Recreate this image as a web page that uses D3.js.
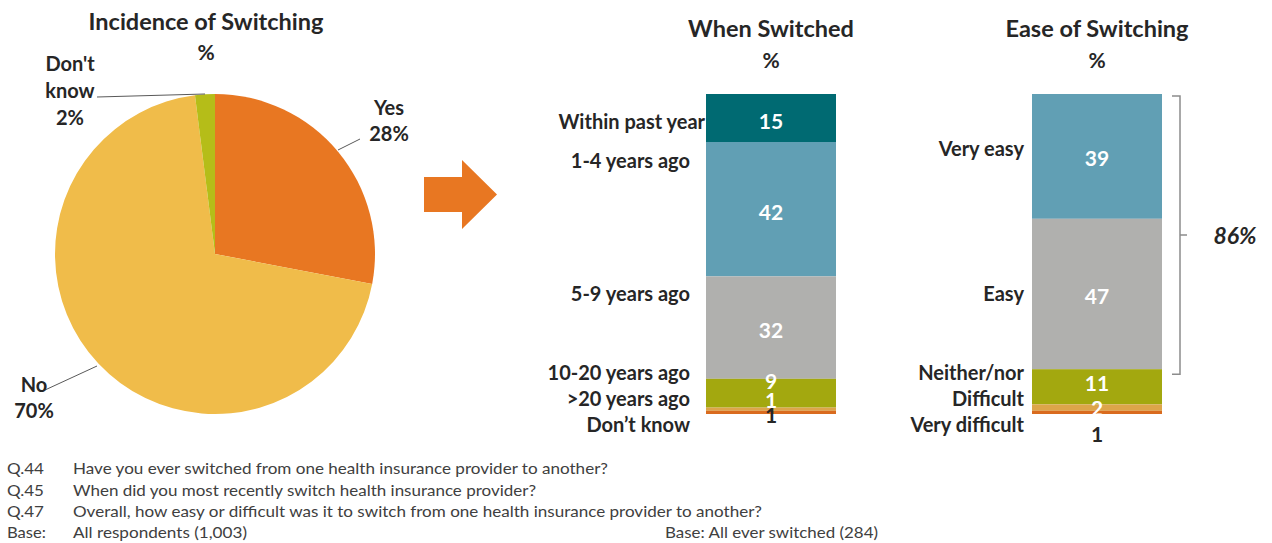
<!DOCTYPE html>
<html>
<head>
<meta charset="utf-8">
<script src="https://cdn.jsdelivr.net/npm/d3@7"></script>
<style>
  html, body { margin: 0; padding: 0; background: #fff; }
  svg { display: block; }
  text { font-family: Lato, "Open Sans", sans-serif; }
</style>
</head>
<body>
<svg id="chart" width="1272" height="543"></svg>
<script>
// Incidence of switching (pie)
const pieLabels = ["Yes", "No", "Don't know"];
const pieValues = [28, 70, 2];

// When switched (stacked bar)
const whenCategories = ["Within past year", "1-4 years ago", "5-9 years ago", "10-20 years ago", ">20 years ago", "Don\u2019t know"];
const whenValues = [15, 42, 32, 9, 1, 1];

// Ease of switching (stacked bar)
const easeCategories = ["Very easy", "Easy", "Neither/nor", "Difficult", "Very difficult"];
const easeValues = [39, 47, 11, 2, 1];
const easeNet = 86; // very easy + easy

const footnotes = [
  ["Q.44", "Have you ever switched from one health insurance provider to another?"],
  ["Q.45", "When did you most recently switch health insurance provider?"],
  ["Q.47", "Overall, how easy or difficult was it to switch from one health insurance provider to another?"],
  ["Base:", "All respondents (1,003)"]
];
const baseSwitched = "Base: All ever switched (284)";

const svg = d3.select("#chart");
const dark = "#262626";

// ---------- Pie ----------
const pieColors = ["#E87722", "#F0BC4A", "#B5BD18"];
const cx = 215, cy = 254, r = 160;
const pie = d3.pie().sort(null).value(d => d)(pieValues);
const arc = d3.arc().innerRadius(0).outerRadius(r);
const pg = svg.append("g").attr("transform", `translate(${cx},${cy})`);
pg.selectAll("path").data(pie).join("path")
  .attr("d", arc)
  .attr("fill", (d, i) => pieColors[i]);

svg.append("text").attr("x", 206).attr("y", 30).attr("text-anchor", "middle")
  .attr("font-size", 23.5).attr("font-weight", 700).attr("fill", dark).text("Incidence of Switching");
svg.append("text").attr("x", 206).attr("y", 60).attr("text-anchor", "middle")
  .attr("font-size", 21).attr("font-weight", 700).attr("fill", dark).text("%");

// pie slice labels with leader lines
const leader = svg.append("g").attr("stroke", "#595959").attr("stroke-width", 1).attr("fill", "none");
leader.append("line").attr("x1", 338).attr("y1", 150).attr("x2", 360).attr("y2", 139);
leader.append("line").attr("x1", 97).attr("y1", 97).attr("x2", cx - 10).attr("y2", 94);
leader.append("line").attr("x1", 45).attr("y1", 390).attr("x2", 97).attr("y2", 366);

function multiLine(x, y, lines, lh, anchor) {
  const t = svg.append("text").attr("x", x).attr("y", y).attr("text-anchor", anchor)
    .attr("font-size", 20).attr("font-weight", 700).attr("fill", dark);
  lines.forEach((l, i) => t.append("tspan").attr("x", x).attr("dy", i === 0 ? 0 : lh).text(l));
}
multiLine(389, 115, [pieLabels[0], pieValues[0] + "%"], 26, "middle");
multiLine(70, 71, ["Don't", "know", pieValues[2] + "%"], 27, "middle");
multiLine(34, 392, [pieLabels[1], pieValues[1] + "%"], 26, "middle");

// ---------- Arrow ----------
svg.append("path")
  .attr("d", "M424,177 L462,177 L462,160 L497,194.5 L462,229 L462,212 L424,212 Z")
  .attr("fill", "#E87722");

// ---------- Stacked bars ----------
const yBar = d3.scaleLinear().domain([0, 100]).range([94, 414]);

function stackedBar(opts) {
  const { x0, w, values, colors, cats, catX, catY, valY, valColors, title } = opts;
  let cum = 0;
  const segs = values.map(v => { const s = { start: cum, end: cum + v, v }; cum += v; return s; });
  const g = svg.append("g");
  g.selectAll("rect").data(segs).join("rect")
    .attr("x", x0).attr("width", w)
    .attr("y", d => yBar(d.start))
    .attr("height", d => yBar(d.end) - yBar(d.start))
    .attr("fill", (d, i) => colors[i]);
  g.selectAll("text.val").data(segs).join("text")
    .attr("class", "val")
    .attr("x", x0 + w / 2)
    .attr("y", (d, i) => valY[i])
    .attr("text-anchor", "middle").attr("dominant-baseline", "central")
    .attr("font-size", 21).attr("font-weight", 700)
    .attr("fill", (d, i) => valColors[i])
    .text(d => d.v);
  g.selectAll("text.cat").data(cats).join("text")
    .attr("class", "cat")
    .attr("x", (d, i) => catX[i])
    .attr("y", (d, i) => catY[i])
    .attr("text-anchor", "end").attr("dominant-baseline", "central")
    .attr("font-size", 20).attr("font-weight", 700).attr("fill", dark)
    .text(d => d);
  svg.append("text").attr("x", x0 + w / 2).attr("y", 37).attr("text-anchor", "middle")
    .attr("font-size", 23.5).attr("font-weight", 700).attr("fill", dark).text(title);
  svg.append("text").attr("x", x0 + w / 2).attr("y", 68).attr("text-anchor", "middle")
    .attr("font-size", 21).attr("font-weight", 700).attr("fill", dark).text("%");
}

stackedBar({
  x0: 706, w: 130, values: whenValues, title: "When Switched",
  colors: ["#006A72", "#619FB4", "#B0B0AE", "#A3A80F", "#DDA54A", "#D96B1F"],
  cats: whenCategories,
  catX: [705, 690, 690, 690, 690, 690],
  catY: [121, 160, 293, 372, 398, 424],
  valY: [120, 211, 329, 380, 399, 414],
  valColors: ["#fff", "#fff", "#fff", "#fff", "#fff", dark]
});

stackedBar({
  x0: 1032, w: 130, values: easeValues, title: "Ease of Switching",
  colors: ["#619FB4", "#B0B0AE", "#A3A80F", "#DDA54A", "#D96B1F"],
  cats: easeCategories,
  catX: [1024, 1024, 1024, 1024, 1024],
  catY: [148, 293, 372, 398, 424],
  valY: [157, 295, 382, 407, 433],
  valColors: ["#fff", "#fff", "#fff", "#fff", dark]
});

// bracket for the net "easy" share
const bTop = yBar(0) + 2, bBot = yBar(easeNet) + 5, bMid = (bTop + bBot) / 2;
svg.append("path")
  .attr("d", `M1172,${bTop} L1180,${bTop} L1180,${bBot} L1172,${bBot} M1180,${bMid} L1187,${bMid}`)
  .attr("fill", "none").attr("stroke", "#8C8C8C").attr("stroke-width", 1.5);
svg.append("text").attr("x", 1235).attr("y", bMid).attr("text-anchor", "middle")
  .attr("dominant-baseline", "central")
  .attr("font-size", 23).attr("font-weight", 700).attr("font-style", "italic").attr("fill", dark)
  .text(easeNet + "%");

// ---------- Footnotes ----------
const fy = [467, 489, 510, 531];
const fnWidth = [535, 463, 689, 174];
const fn = svg.append("g").attr("font-size", 16).attr("fill", "#404040");
footnotes.forEach((f, i) => {
  fn.append("text").attr("x", 7).attr("y", fy[i]).attr("dominant-baseline", "central")
    .attr("textLength", i === 3 ? 39 : 37).attr("lengthAdjust", "spacingAndGlyphs").text(f[0]);
  fn.append("text").attr("x", 73).attr("y", fy[i]).attr("dominant-baseline", "central")
    .attr("textLength", fnWidth[i]).attr("lengthAdjust", "spacingAndGlyphs").text(f[1]);
});
fn.append("text").attr("x", 665).attr("y", fy[3]).attr("dominant-baseline", "central")
  .attr("textLength", 213).attr("lengthAdjust", "spacingAndGlyphs").text(baseSwitched);
</script>
</body>
</html>
